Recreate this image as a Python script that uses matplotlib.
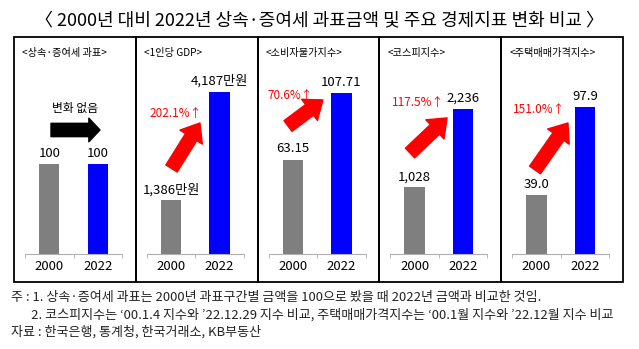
import matplotlib
matplotlib.use('Agg')
import matplotlib.pyplot as plt
from matplotlib.patches import Rectangle

plt.rcParams['font.family'] = ['Noto Sans CJK KR', 'DejaVu Sans']

# chart data
title = '〈 2000년 대비 2022년 상속·증여세 과표금액 및 주요 경제지표 변화 비교 〉'
panel_titles = ['<상속·증여세 과표>', '<1인당 GDP>', '<소비자물가지수>', '<코스피지수>', '<주택매매가격지수>']
years = ['2000', '2022']
val_2000 = [100, 1386, 63.15, 1028, 39.0]
val_2022 = [100, 4187, 107.71, 2236, 97.9]
label_2000 = ['100', '1,386만원', '63.15', '1,028', '39.0']
label_2022 = ['100', '4,187만원', '107.71', '2,236', '97.9']
change = ['변화 없음', '202.1%↑', '70.6%↑', '117.5%↑', '151.0%↑']
notes = [
    '주 : 1. 상속·증여세 과표는 2000년 과표구간별 금액을 100으로 봤을 때 2022년 금액과 비교한 것임.',
    '       2. 코스피지수는 ‘00.1.4 지수와 ’22.12.29 지수 비교, 주택매매가격지수는 ‘00.1월 지수와 ’22.12월 지수 비교',
    '자료 : 한국은행, 통계청, 한국거래소, KB부동산',
]

# layout (pixels) and per-panel scales
W, H = 639, 349
y_max = [200, 4652, 120.4, 2776, 119.9]
# arrow tail / tip and change-label position in axes fraction
arrow_tail = [(0.268, 0.689), (0.255, 0.475), (0.20, 0.711), (0.202, 0.561), (0.235, 0.467)]
arrow_tip = [(0.773, 0.689), (0.548, 0.728), (0.56, 0.856), (0.584, 0.756), (0.575, 0.728)]
text_pos = [(0.515, 0.811), (0.302, 0.783), (0.22, 0.883), (0.285, 0.839), (0.276, 0.80)]

grey = '#7f7f7f'
blue = '#0000ff'

fig = plt.figure(figsize=(W / 100, H / 100), dpi=100)
fig.text(0.5, 1 - 20 / H, title, ha='center', va='center', fontsize=13)

box_left, box_right, box_top, box_bot = 14, 623, 37, 282
pw = (box_right - box_left) / 5

for i in range(5):
    pl = box_left + pw * i
    fig.add_artist(Rectangle((pl / W, 1 - box_bot / H), pw / W, (box_bot - box_top) / H,
                             transform=fig.transFigure, fill=False, lw=1.3, ec='black'))
    fig.text((pl + 8) / W, 1 - 53 / H, panel_titles[i], ha='left', va='center', fontsize=7.3)

    ax = fig.add_axes([(pl + 11) / W, 1 - 254 / H, 97 / W, 180 / H])
    ax.patch.set_alpha(0)
    bars = ax.bar([0, 1], [val_2000[i], val_2022[i]], width=0.42, color=[grey, blue])
    ax.set_xlim(-0.5, 1.5)
    ax.set_ylim(0, y_max[i])
    for s in ['top', 'right', 'left']:
        ax.spines[s].set_visible(False)
    ax.spines['bottom'].set_color('#b0b0b0')
    ax.set_yticks([])
    ax.set_xticks([0, 1])
    ax.set_xticklabels(years, fontsize=9.5)
    ax.tick_params(axis='x', length=0, pad=4)
    ax.set_xticks([-0.5, 0.5, 1.5], minor=True)
    ax.tick_params(axis='x', which='minor', length=3, color='#b0b0b0')

    for b, lab in zip(bars, [label_2000[i], label_2022[i]]):
        ax.annotate(lab, (b.get_x() + b.get_width() / 2, b.get_height()),
                    xytext=(0, 3), textcoords='offset points',
                    ha='center', va='bottom', fontsize=9.5)

    col = 'black' if i == 0 else '#ff0000'
    ax.annotate('', xy=arrow_tip[i], xytext=arrow_tail[i],
                xycoords='axes fraction', textcoords='axes fraction',
                arrowprops=dict(arrowstyle='simple,head_length=%s,head_width=%s,tail_width=0.48'
                                % ((0.4, 0.85) if i == 0 else (0.6, 0.95)),
                                color=col, shrinkA=0, shrinkB=0, mutation_scale=20))
    ax.text(text_pos[i][0], text_pos[i][1], change[i], transform=ax.transAxes,
            ha='center', va='center', fontsize=8.5, color=col)

for k, line in enumerate(notes):
    fig.text(11 / W, 1 - (298 + 17 * k) / H, line, ha='left', va='center', fontsize=9.4, color='#222222')

plt.savefig('out.png', dpi=100)
